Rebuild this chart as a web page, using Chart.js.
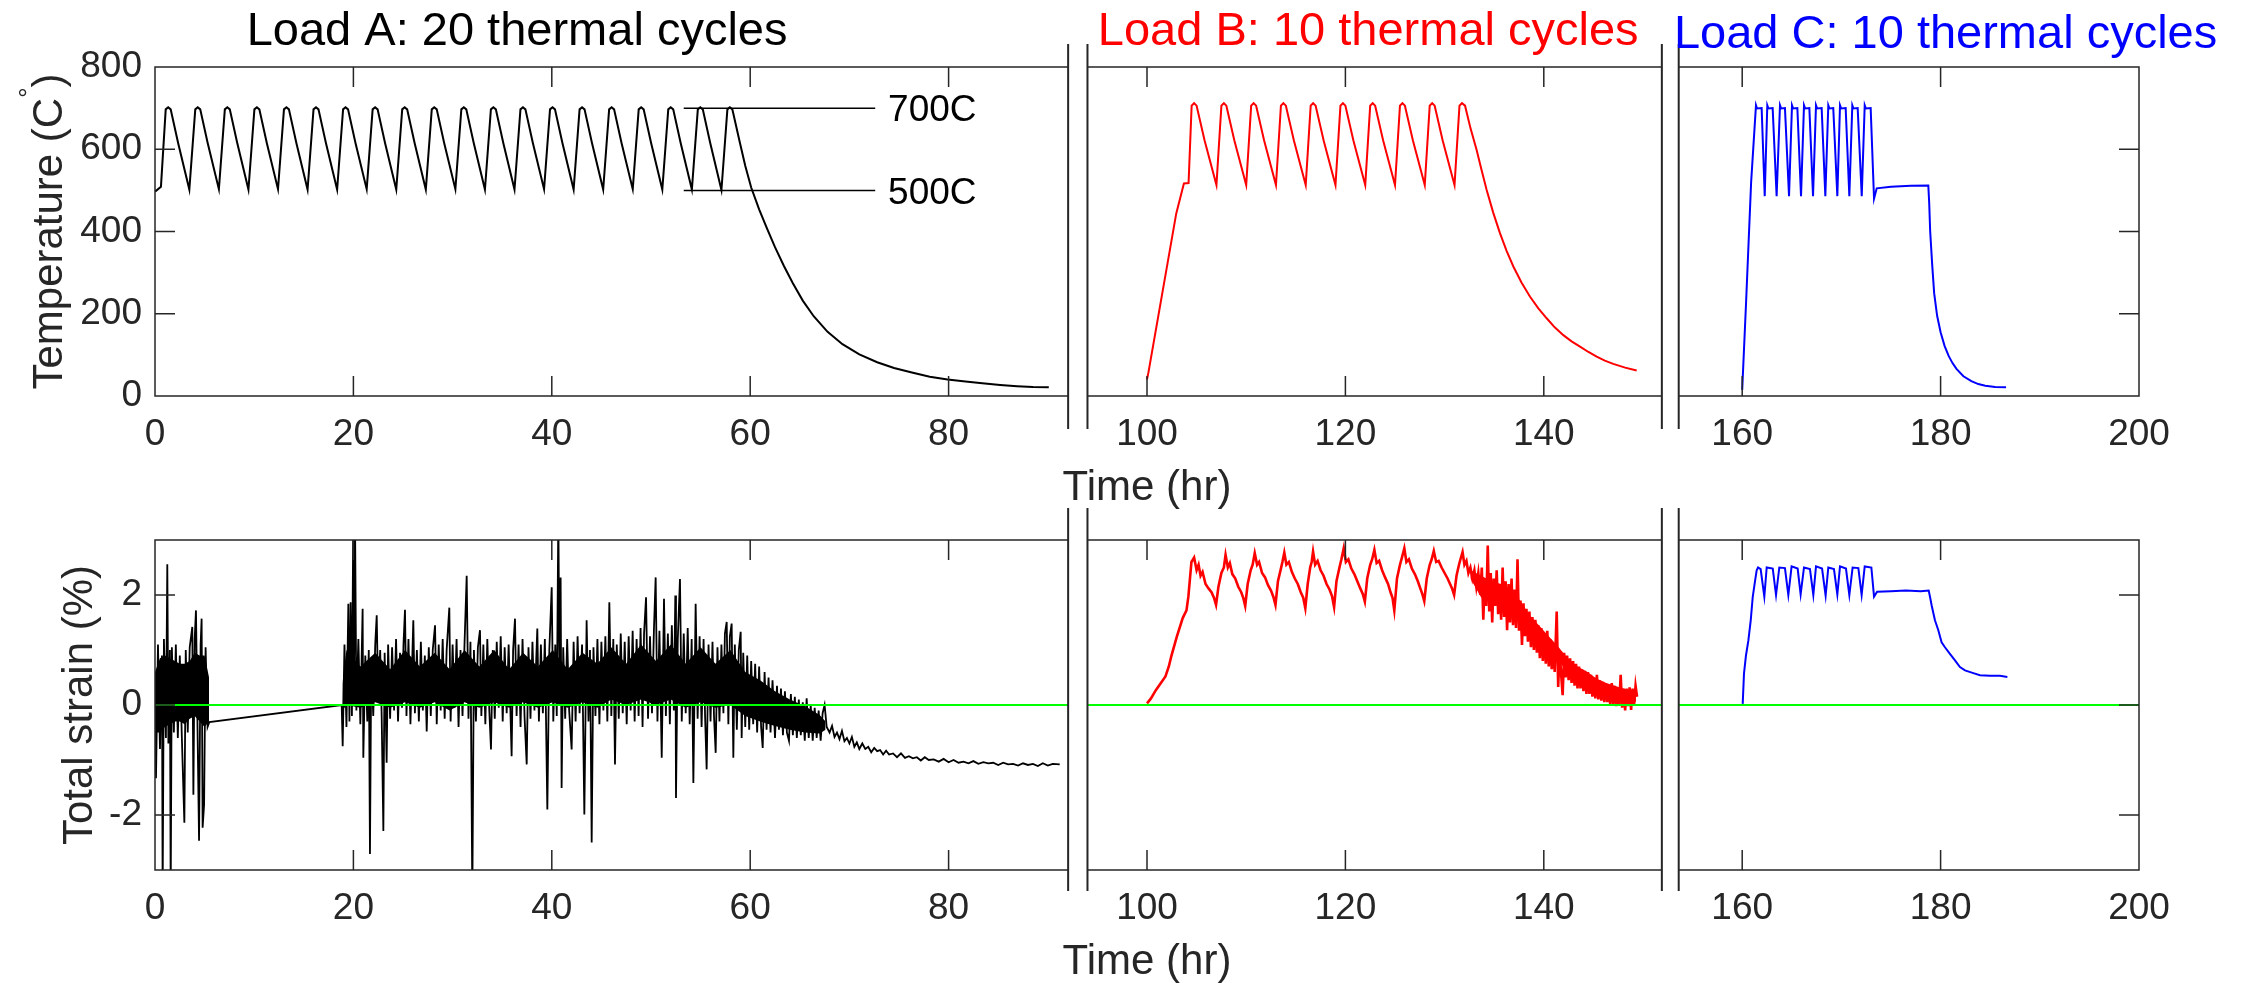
<!DOCTYPE html>
<html>
<head>
<meta charset="utf-8">
<script src="https://cdn.jsdelivr.net/npm/chart.js@4/dist/chart.umd.min.js"></script>
<style>
  html, body { margin: 0; padding: 0; background: #fff; }
  #wrap { position: relative; width: 2254px; height: 983px; overflow: hidden; }
  canvas { position: absolute; left: 0; }
  #top { top: 0; }
  #bottom { top: 490px; }
</style>
</head>
<body>
<div id="wrap">
  <canvas id="top" width="2254" height="520"></canvas>
  <canvas id="bottom" width="2254" height="493"></canvas>
</div>
<script>
// ---- data (time in hours) ----
const xTicks = [0, 20, 40, 60, 80, 100, 120, 140, 160, 180, 200];
const tempTicks = [0, 200, 400, 600, 800];
const strainTicks = [-2, 0, 2];

// Load A temperature (black)
const tempA_t = [0, 0.6,
  1.08, 1.33, 1.58, 2.33, 3.46,
  4.06, 4.31, 4.56, 5.31, 6.44,
  7.04, 7.29, 7.54, 8.29, 9.42,
  10.02, 10.27, 10.52, 11.27, 12.40,
  13.00, 13.25, 13.50, 14.25, 15.38,
  15.98, 16.23, 16.48, 17.23, 18.36,
  18.96, 19.21, 19.46, 20.21, 21.34,
  21.94, 22.19, 22.44, 23.19, 24.32,
  24.92, 25.17, 25.42, 26.17, 27.30,
  27.90, 28.15, 28.40, 29.15, 30.28,
  30.88, 31.13, 31.38, 32.13, 33.26,
  33.86, 34.11, 34.36, 35.11, 36.24,
  36.84, 37.09, 37.34, 38.09, 39.22,
  39.82, 40.07, 40.32, 41.07, 42.20,
  42.80, 43.05, 43.30, 44.05, 45.18,
  45.78, 46.03, 46.28, 47.03, 48.16,
  48.76, 49.01, 49.26, 50.01, 51.14,
  51.74, 51.99, 52.24, 52.99, 54.12,
  54.72, 54.97, 55.22, 55.97, 57.10,
  57.70, 57.95, 58.20, 58.95, 59.5,
  60.1, 60.9, 61.7, 62.5, 63.4, 64.3, 65.3, 66.4, 67.8, 69.3, 71.0,
  72.8, 74.5, 76.3, 78.1, 79.9, 81.7, 83.4, 85.2, 86.9, 88.5, 90.1];
const tempA_v = [497, 509,
  697, 702, 697, 615, 502,
  697, 702, 697, 615, 503,
  697, 702, 697, 615, 502,
  697, 702, 697, 615, 503,
  697, 702, 697, 615, 502,
  697, 702, 697, 615, 502,
  697, 702, 697, 615, 503,
  697, 702, 697, 615, 502,
  697, 702, 697, 615, 502,
  697, 702, 697, 615, 503,
  697, 702, 697, 615, 502,
  697, 702, 697, 615, 502,
  697, 702, 697, 615, 503,
  697, 702, 697, 615, 502,
  697, 702, 697, 615, 502,
  697, 702, 697, 615, 503,
  697, 702, 697, 615, 502,
  697, 702, 697, 615, 502,
  697, 702, 697, 615, 501,
  697, 702, 697, 617, 560,
  507, 454, 407, 362, 316, 274, 232, 194, 156, 126, 101,
  82, 68, 57, 47, 40, 35, 31, 27, 24, 22, 21];

// Load B temperature (red)
const tempB_t = [100.0, 100.15, 102.95, 103.72, 104.19,
  104.5, 104.75, 105.0, 105.8, 107.0,
  107.5, 107.75, 108.0, 108.8, 110.0,
  110.5, 110.75, 111.0, 111.8, 113.0,
  113.5, 113.75, 114.0, 114.8, 116.0,
  116.5, 116.75, 117.0, 117.8, 119.0,
  119.5, 119.75, 120.0, 120.8, 122.0,
  122.5, 122.75, 123.0, 123.8, 125.0,
  125.5, 125.75, 126.0, 126.8, 128.0,
  128.5, 128.75, 129.0, 129.8, 131.0,
  131.5, 131.75, 132.06,
  132.6, 133.23, 133.7, 134.24, 134.9, 135.58, 136.25, 136.93, 137.75, 138.6, 139.45,
  140.29, 141.1, 141.97, 142.8, 143.65, 144.5, 145.33, 146.15, 147.0, 148.2, 149.36];
const tempB_v = [40, 58, 444, 517, 518,
  706, 712, 706, 622, 513,
  706, 712, 706, 622, 513,
  706, 712, 706, 622, 513,
  706, 712, 706, 622, 513,
  706, 712, 706, 622, 513,
  706, 712, 706, 622, 513,
  706, 712, 706, 622, 513,
  706, 712, 706, 622, 513,
  706, 712, 706, 622, 513,
  706, 712, 706,
  652, 598, 552, 501, 446, 396, 353, 315, 276, 242, 213,
  189, 167, 148, 133, 120, 107, 96, 86, 78, 69, 62];

// Load C temperature (blue)
const tempC_t = [160.0, 160.4, 160.9,
  161.39, 161.5, 161.96, 162.27,
  162.53, 162.65, 163.07, 163.47,
  163.81, 163.93, 164.31, 164.72,
  165.02, 165.14, 165.56, 165.93,
  166.23, 166.35, 166.77, 167.14,
  167.44, 167.56, 168.01, 168.38,
  168.68, 168.8, 169.18, 169.59,
  169.86, 169.98, 170.43, 170.8,
  171.1, 171.22, 171.64, 172.05,
  172.35, 172.47, 172.95, 173.29,
  173.56, 175.0, 177.0, 178.76, 178.85, 178.95, 179.15, 179.35, 179.65, 180.0,
  180.4, 180.8, 181.2, 181.6, 182.3, 183.1, 183.8, 184.5, 185.5, 186.6];
const tempC_v = [15, 233, 520,
  707, 699, 700, 486,
  707, 699, 700, 486,
  707, 699, 700, 486,
  707, 699, 700, 486,
  707, 699, 700, 486,
  707, 699, 700, 486,
  707, 699, 700, 486,
  707, 699, 700, 486,
  707, 699, 700, 486,
  707, 699, 700, 480,
  505, 509, 511, 512, 470, 400, 320, 250, 195, 155,
  122, 98, 80, 66, 48, 36, 29, 25, 22, 21];

// 700C / 500C marker lines
const mark_t = [53.3, 72.6];
const mark700_v = [700, 700];
const mark500_v = [500, 500];

// Load A total strain (black)
const strainA_t = [
  0.0, 0.1, 0.3, 0.5, 0.7, 0.77, 0.9, 1.1, 1.24, 1.35,
  1.5, 1.58, 1.7, 1.9, 2.1, 2.3, 2.5, 2.7, 2.96, 3.1,
  3.3, 3.5, 3.76, 3.87, 4.0, 4.13, 4.3, 4.44, 4.6, 4.7,
  4.8, 4.95, 5.1, 5.3, 5.48,
  18.82, 18.92, 19.1, 19.3, 19.49, 19.6, 19.72, 19.85, 19.99, 20.05,
  20.16, 20.3, 20.5, 20.7, 20.93, 21.0, 21.2, 21.4, 21.55, 21.67,
  21.8, 22.0, 22.2, 22.35, 22.5, 22.7, 22.85, 23.02, 23.15, 23.35,
  23.5, 23.7, 23.9, 24.1, 24.3, 24.5, 24.7, 24.9, 25.05, 25.2,
  25.35, 25.55, 25.75, 26.04, 26.2, 26.4, 26.6, 26.8, 27.0, 27.2,
  27.39, 27.6, 27.8, 28.0, 28.23, 28.4, 28.6, 28.8, 29.0, 29.2,
  29.4, 29.67, 29.8, 30.0, 30.2, 30.4, 30.6, 30.8, 31.0, 31.2,
  31.42, 31.6, 31.8, 31.99, 32.15, 32.35, 32.55, 32.76, 32.9, 33.1,
  33.3, 33.5, 33.7, 33.87, 34.05, 34.25, 34.45, 34.65, 34.85, 35.05,
  35.25, 35.45, 35.65, 35.95, 36.1, 36.29, 36.45, 36.65, 36.85, 37.05,
  37.25, 37.47, 37.65, 37.85, 38.05, 38.25, 38.54, 38.7, 38.9, 39.1,
  39.3, 39.55, 39.75, 39.99, 40.15, 40.35, 40.5, 40.66, 40.78, 40.89,
  40.99, 41.15, 41.35, 41.55, 41.75, 42.0, 42.2, 42.4, 42.6, 42.8,
  43.05, 43.28, 43.51, 43.7, 43.85, 44.02, 44.2, 44.4, 44.6, 44.8,
  45.0, 45.2, 45.4, 45.6, 45.8, 46.0, 46.2, 46.37, 46.55, 46.75,
  46.95, 47.15, 47.35, 47.55, 47.75, 47.95, 48.15, 48.35, 48.55, 48.75,
  48.95, 49.15, 49.3, 49.5, 49.7, 49.9, 50.1, 50.3, 50.47, 50.65,
  50.85, 51.08, 51.31, 51.5, 51.7, 51.9, 52.1, 52.3, 52.45, 52.52,
  52.7, 52.92, 53.1, 53.3, 53.5, 53.7, 53.9, 54.1, 54.27, 54.5,
  54.7, 54.9, 55.1, 55.3, 55.45, 55.61, 55.8, 56.0, 56.2, 56.35,
  56.52, 56.7, 56.9, 57.1, 57.3, 57.45, 57.63, 57.8, 57.95, 58.13,
  58.3, 58.45, 58.65, 58.85, 59.04, 59.14, 59.3, 59.5, 59.7, 59.9,
  60.1, 60.3, 60.5, 60.7, 60.9, 61.1, 61.26, 61.45, 61.65, 61.85,
  62.05, 62.25, 62.5, 62.7, 62.9, 63.1, 63.3, 63.5, 63.7, 63.91,
  64.1, 64.3, 64.5, 64.7, 64.9, 65.1, 65.3, 65.5, 65.69, 65.9,
  66.1, 66.3, 66.5, 66.7, 66.9, 67.1, 67.3, 67.5, 67.71,
  68.0, 68.25, 68.5, 68.75, 69.0, 69.25, 69.5, 69.75, 70.0, 70.25,
  70.5, 70.75, 71.0, 71.3, 71.6, 71.9, 72.2, 72.5, 72.8, 73.1,
  73.4, 73.7, 74.0, 74.4, 74.8, 75.2, 75.6, 76.0, 76.4, 76.8,
  77.2, 77.6, 78.0, 78.5, 79.0, 79.5, 80.0, 80.5, 81.0, 81.5,
  82.0, 82.5, 83.0, 83.5, 84.0, 84.5, 85.0, 85.5, 86.0, 86.5,
  87.0, 87.5, 88.0, 88.5, 89.0, 89.5, 90.0, 90.5, 91.2];
const strainA_v = [
  0.5, -1.33, 1.1, -0.8, 0.9, -3.5, 1.2, -0.6, 2.56, -0.7,
  1.0, -3.5, 1.05, -0.5, 1.1, -0.6, 0.9, -0.55, -2.14, 1.0,
  -0.5, 1.05, 1.42, -1.63, 1.2, 1.72, -0.6, -2.47, 1.1, 1.57,
  -2.23, -1.81, 1.05, -0.4, -0.31,
  0.0, -0.75, 1.1, -0.4, 1.84, -0.3, 1.87, -0.2, 3.5, 0.2,
  3.5, -0.1, 1.2, -0.35, 1.75, -0.96, 0.9, -0.3, 1.0, -2.71,
  0.8, -0.2, 1.1, 1.63, 0.1, 1.0, -0.2, -2.29, 0.95, -1.05,
  1.1, -0.25, 1.05, -0.1, 1.2, -0.3, 0.95, -0.05, 1.1, 1.73,
  -0.2, 1.2, -0.35, 1.54, -0.15, 1.0, -0.3, 1.15, -0.1, 0.9,
  -0.48, 1.05, -0.2, 1.0, 1.45, -0.35, 1.1, -0.1, 1.2, -0.25,
  1.0, 1.77, -0.3, 1.1, -0.05, 1.2, -0.4, 1.0, -0.2, 1.1,
  2.35, -0.25, 1.15, -3.5, 1.0, -0.3, 1.05, 1.36, -0.2, 1.1,
  -0.35, 1.2, -0.1, -0.81, 1.0, -0.25, 1.15, -0.05, 1.25, -0.3,
  1.05, -0.15, 1.1, -0.93, 1.0, 1.57, -0.2, 1.1, -0.4, 1.2,
  -0.2, -1.08, 1.05, -0.25, 1.15, -0.1, 1.39, -0.3, 1.1, -0.15,
  1.2, -1.9, 1.0, 2.14, -0.3, 1.1, -0.2, 3.5, 0.1, 2.32,
  -1.51, 1.05, -0.25, 1.2, -0.1, -0.81, 1.15, -0.3, 1.25, -0.15,
  1.1, -1.99, 1.54, -0.3, 1.0, -2.5, 1.05, -0.2, 1.2, -0.35,
  1.15, -0.1, 1.25, -0.3, 1.87, -0.2, 1.2, -1.08, 1.1, -0.25,
  1.3, -0.15, 1.15, -0.35, 1.25, -0.1, 1.35, -0.3, 1.2, -0.2,
  1.4, -0.4, 1.3, 1.96, -0.25, 1.25, -0.15, 1.4, 2.32, -0.3,
  1.35, -0.96, 1.93, -0.2, 1.3, -0.35, 1.45, -0.1, 1.99, -1.69,
  1.2, 2.29, -0.3, 1.3, -0.15, 1.4, -0.35, 1.2, -1.42, 1.84,
  -0.25, 1.25, -0.4, 1.2, -0.2, -1.17, 1.1, -0.3, 1.15, -0.2,
  -0.87, 1.05, -0.3, 1.1, -0.15, 1.3, 1.51, -0.35, 1.25, 1.48,
  -0.96, 1.1, -0.45, 1.0, 1.33, -0.6, 0.95, -0.4, 0.9, -0.45,
  0.8, -0.35, 0.75, -0.5, 0.7, -0.4, -0.78, 0.6, -0.45, 0.5,
  -0.5, 0.45, -0.6, 0.35, -0.45, 0.3, -0.55, 0.25, -0.5, -0.65,
  0.2, -0.55, 0.15, -0.6, 0.1, -0.55, 0.05, -0.65, 0.12, -0.6,
  0.0, -0.65, -0.05, -0.6, -0.1, -0.65, -0.15, 0.0, -0.4,
  -0.5, -0.38, -0.58, -0.5, -0.62, -0.47, -0.66, -0.6, -0.7, -0.58,
  -0.76, -0.68, -0.8, -0.7, -0.8, -0.76, -0.86, -0.78, -0.84, -0.82,
  -0.9, -0.83, -0.9, -0.88, -0.95, -0.88, -0.96, -0.93, -0.97, -0.95,
  -1.01, -0.95, -1.0, -0.99, -1.03, -0.98, -1.04, -1.0, -1.05, -1.03,
  -1.06, -1.02, -1.07, -1.04, -1.06, -1.05, -1.09, -1.05, -1.08, -1.07,
  -1.1, -1.06, -1.09, -1.07, -1.11, -1.06, -1.1, -1.07, -1.08];

// solid core of the Load A strain band (upper / lower edge)
const coreA1_t = [0.0, 0.5, 1.0, 1.5, 2.0, 2.5, 3.0, 3.5, 4.0, 4.5, 5.0, 5.45];
const coreA1_hi = [0.6, 0.85, 0.9, 0.85, 0.8, 0.75, 0.75, 0.8, 0.95, 0.9, 0.9, 0.5];
const coreA1_lo = [-0.5, -0.5, -0.4, -0.35, -0.3, -0.3, -0.35, -0.25, -0.2, -0.3, -0.4, -0.3];
const coreA2_t = [18.9, 19.3, 20.7, 22.2, 23.7, 25.2, 26.7, 28.2, 29.7, 31.2,
  32.7, 34.2, 35.7, 37.1, 38.6, 40.1, 41.6, 43.1, 44.6, 46.0,
  47.5, 49.0, 50.5, 52.0, 53.5, 55.0, 56.5, 58.0, 59.5, 61.0,
  62.5, 64.0, 65.5, 67.0, 67.6];
const coreA2_hi = [0.4, 1.0, 0.7, 0.95, 0.65, 1.0, 0.7, 0.95, 0.65, 1.0,
  0.7, 1.0, 0.65, 0.95, 0.7, 1.0, 0.65, 0.95, 0.75, 1.05,
  0.75, 1.1, 0.8, 1.1, 0.75, 1.05, 0.75, 1.0, 0.6, 0.45,
  0.25, 0.1, -0.02, -0.18, -0.3];
const coreA2_lo = [-0.1, 0.0, -0.05, 0.05, -0.05, 0.05, -0.05, 0.05, -0.1, 0.05,
  -0.05, 0.05, -0.05, 0.05, -0.05, 0.05, -0.05, 0.05, -0.05, 0.1,
  0.0, 0.1, 0.0, 0.1, -0.05, 0.05, -0.05, 0.0, -0.2, -0.3,
  -0.38, -0.45, -0.5, -0.52, -0.45];

// Load B total strain (red)
const strainB_t = [
  100.0, 100.4, 100.89, 101.4, 101.86, 102.2, 102.44, 103.0, 103.6, 103.98,
  104.17, 104.48, 104.75, 105.0, 105.2, 105.4, 105.6, 105.9, 106.2, 106.5,
  106.75, 106.96, 107.2, 107.5, 107.75, 107.92, 108.15, 108.35, 108.6, 108.9,
  109.2, 109.5, 109.7, 109.9, 110.15, 110.45, 110.65, 110.86, 111.1, 111.3,
  111.6, 111.9, 112.2, 112.5, 112.75, 112.95, 113.2, 113.5, 113.65, 113.84,
  114.05, 114.3, 114.6, 114.9, 115.2, 115.5, 115.75, 115.96, 116.2, 116.45,
  116.6, 116.74, 116.95, 117.2, 117.5, 117.8, 118.1, 118.4, 118.65, 118.86,
  119.1, 119.4, 119.6, 119.83, 120.05, 120.3, 120.6, 120.9, 121.2, 121.5,
  121.75, 121.96, 122.2, 122.5, 122.7, 122.92, 123.15, 123.4, 123.7, 124.0,
  124.3, 124.55, 124.75, 124.93, 125.2, 125.5, 125.7, 125.94, 126.15, 126.4,
  126.7, 127.0, 127.3, 127.55, 127.75, 127.95, 128.2, 128.5, 128.7, 128.91,
  129.15, 129.4, 129.7, 130.0, 130.3, 130.55, 130.75, 130.96, 131.2, 131.45,
  131.6, 131.81, 132.0, 132.2, 132.4, 132.6, 132.8, 133.0, 133.2, 133.4,
  133.6, 133.75, 133.9, 134.05, 134.2, 134.35, 134.5, 134.65, 134.8, 134.95,
  135.1, 135.25, 135.4, 135.55, 135.7, 135.85, 136.0, 136.15, 136.3, 136.45,
  136.6, 136.75, 136.9, 137.05, 137.2, 137.35, 137.5, 137.65, 137.8, 137.95,
  138.1, 138.25, 138.4, 138.55, 138.7, 138.85, 139.0, 139.15, 139.3, 139.45,
  139.6, 139.75, 139.9, 140.05, 140.2, 140.35, 140.5, 140.65, 140.8, 140.95,
  141.1, 141.3, 141.45, 141.6, 141.75, 141.9, 142.05, 142.2, 142.35, 142.5,
  142.65, 142.8, 142.95, 143.1, 143.25, 143.4, 143.55, 143.7, 143.85, 144.0,
  144.15, 144.3, 144.45, 144.6, 144.75, 144.9, 145.05, 145.2, 145.35, 145.5,
  145.65, 145.8, 145.95, 146.1, 146.25, 146.4, 146.55, 146.7, 146.85, 147.0,
  147.15, 147.3, 147.45, 147.6, 147.75, 147.9, 148.05, 148.2, 148.35, 148.5,
  148.65, 148.8, 148.95, 149.1, 149.25, 149.4];
const strainB_v = [
  0.03, 0.12, 0.27, 0.4, 0.52, 0.7, 0.88, 1.24, 1.58, 1.72,
  1.97, 2.6, 2.68, 2.45, 2.55, 2.35, 2.42, 2.2, 2.12, 2.05,
  1.95, 1.82, 2.15, 2.4, 2.5, 2.73, 2.5, 2.58, 2.38, 2.3,
  2.15, 2.05, 1.95, 1.8, 2.2, 2.45, 2.55, 2.76, 2.55, 2.6,
  2.4, 2.32, 2.18, 2.08, 1.96, 1.82, 2.25, 2.48, 2.6, 2.77,
  2.55, 2.6, 2.42, 2.3, 2.2, 2.05, 1.95, 1.76, 2.2, 2.5,
  2.6, 2.79, 2.55, 2.62, 2.45, 2.35, 2.2, 2.1, 1.98, 1.78,
  2.25, 2.5, 2.65, 2.85, 2.6, 2.65, 2.48, 2.38, 2.25, 2.12,
  2.02, 1.88, 2.3, 2.55, 2.65, 2.82, 2.58, 2.62, 2.45, 2.32,
  2.2, 2.05, 1.95, 1.72, 2.3, 2.55, 2.68, 2.85, 2.6, 2.65,
  2.48, 2.38, 2.25, 2.12, 2.02, 1.89, 2.3, 2.55, 2.65, 2.8,
  2.6, 2.62, 2.5, 2.4, 2.3, 2.2, 2.12, 2.0, 2.35, 2.55,
  2.65, 2.78, 2.55, 2.62, 2.4, 2.5, 2.3, 2.45, 2.15, 2.4,
  2.0, 2.5, 1.55, 2.3, 1.8, 2.9, 1.7, 2.4, 1.5, 2.3,
  1.8, 2.45, 1.65, 2.2, 1.55, 2.5, 1.6, 2.25, 1.36, 2.2,
  1.5, 2.3, 1.45, 2.1, 1.4, 2.65, 1.35, 1.9, 1.09, 1.85,
  1.25, 1.75, 1.15, 1.7, 1.05, 1.6, 1.0, 1.55, 0.95, 1.45,
  0.85, 1.4, 0.8, 1.3, 0.75, 1.35, 0.7, 1.2, 0.65, 1.1,
  0.6, 1.7, 0.33, 1.0, 0.55, 0.18, 0.95, 0.5, 0.9, 0.45,
  0.85, 0.4, 0.8, 0.35, 0.75, 0.3, 0.7, 0.3, 0.65, 0.25,
  0.62, 0.2, 0.6, 0.2, 0.55, 0.15, 0.5, 0.12, 0.55, 0.1,
  0.45, 0.08, 0.42, 0.05, 0.4, 0.05, 0.35, 0.0, 0.4, 0.02,
  0.35, -0.02, 0.3, 0.0, 0.55, -0.05, 0.3, -0.1, 0.3, -0.02,
  0.32, -0.09, 0.3, 0.0, 0.35, 0.15];

// solid core of the noisy Load B cool-down
const coreB_t = [132.6, 133.7, 134.7, 135.7, 136.7, 137.6, 138.5, 139.5, 140.5, 141.5, 142.4, 143.4,
  144.4, 145.3, 146.3, 147.3, 148.3, 149.3];
const coreB_hi = [2.45, 2.35, 2.25, 2.2, 2.1, 1.9, 1.65, 1.45, 1.25, 1.05, 0.85, 0.7,
  0.6, 0.48, 0.4, 0.34, 0.28, 0.26];
const coreB_lo = [2.3, 1.95, 1.9, 1.8, 1.7, 1.5, 1.3, 1.1, 0.95, 0.78, 0.62, 0.48,
  0.36, 0.26, 0.2, 0.15, 0.1, 0.06];

// Load C total strain (blue)
const strainC_t = [
  160.05, 160.18, 160.38, 160.62, 160.86, 161.06, 161.3, 161.46, 161.6, 161.86,
  162.23, 162.47, 163.08, 163.41, 163.74, 164.31, 164.65, 164.98, 165.59, 165.89,
  166.23, 166.83, 167.17, 167.44, 168.05, 168.41, 168.68, 169.25, 169.59, 169.86,
  170.46, 170.8, 171.13, 171.71, 172.04, 172.35, 173.02, 173.29, 173.6, 175.0,
  176.5, 178.0, 178.8, 178.94, 179.1, 179.43, 179.77, 180.1, 180.44, 180.94,
  181.45, 181.95, 182.46, 183.3, 183.97, 184.98, 185.99, 186.73];
const strainC_v = [
  0.02, 0.57, 0.9, 1.17, 1.54, 1.96, 2.26, 2.45, 2.5, 2.47,
  1.97, 2.5, 2.48, 2.0, 2.5, 2.49, 2.0, 2.52, 2.48, 2.01,
  2.5, 2.47, 2.0, 2.52, 2.48, 1.99, 2.5, 2.47, 2.01, 2.52,
  2.48, 2.0, 2.5, 2.49, 2.0, 2.52, 2.5, 1.97, 2.06, 2.07,
  2.08, 2.07, 2.08, 1.96, 1.81, 1.54, 1.36, 1.14, 1.05, 0.93,
  0.81, 0.69, 0.63, 0.58, 0.54, 0.53, 0.53, 0.51];

const zero_t = [0, 200];
const zero_v = [0, 0];

// axis breaks, in hours
const breaks = [[92.05, 94.0], [151.9, 153.6]];

const FONT = "'Liberation Sans', Arial, Helvetica, sans-serif";
const INK = '#262626';

function pairs(t, v) {
  return t.map((x, i) => ({ x: x, y: v[i] }));
}

function line(t, v, color, width, order) {
  return {
    data: pairs(t, v),
    borderColor: color,
    borderWidth: width,
    pointRadius: 0,
    tension: 0,
    fill: false,
    order: order
  };
}

// two datasets: an invisible upper edge and a lower edge filled up to it
function band(t, hi, lo, color) {
  return [
    { data: pairs(t, hi), borderWidth: 0, borderColor: color, pointRadius: 0, fill: false, order: 2 },
    { data: pairs(t, lo), borderWidth: 0, borderColor: color, backgroundColor: color, pointRadius: 0, fill: '-1', order: 2 }
  ];
}

// box, inward ticks and the break marks
const framePlugin = {
  id: 'frame',
  afterDatasetsDraw(chart, args, o) {
    const { ctx, chartArea: a } = chart;
    const x = chart.scales.x, y = chart.scales.y;
    ctx.save();
    ctx.strokeStyle = INK;
    ctx.lineWidth = 1.5;
    ctx.beginPath();
    ctx.rect(a.left, a.top, a.right - a.left, a.bottom - a.top);
    xTicks.forEach(v => {
      const px = x.getPixelForValue(v);
      ctx.moveTo(px, a.top); ctx.lineTo(px, a.top + 20);
      ctx.moveTo(px, a.bottom); ctx.lineTo(px, a.bottom - 20);
    });
    o.yTicks.forEach(v => {
      const py = y.getPixelForValue(v);
      ctx.moveTo(a.left, py); ctx.lineTo(a.left + 20, py);
      ctx.moveTo(a.right, py); ctx.lineTo(a.right - 20, py);
    });
    ctx.stroke();

    breaks.forEach(b => {
      const p0 = x.getPixelForValue(b[0]);
      const p1 = x.getPixelForValue(b[1]);
      ctx.fillStyle = '#fff';
      ctx.fillRect(p0, a.top - 3, p1 - p0, a.bottom - a.top + 6);
      ctx.lineWidth = 2;
      ctx.beginPath();
      ctx.moveTo(p0, a.top - o.above); ctx.lineTo(p0, a.bottom + o.below);
      ctx.moveTo(p1, a.top - o.above); ctx.lineTo(p1, a.bottom + o.below);
      ctx.stroke();
    });
    ctx.restore();
  }
};

// titles, axis labels, 700C/500C notes
const textPlugin = {
  id: 'texts',
  afterDraw(chart, args, o) {
    const { ctx, chartArea: a } = chart;
    const x = chart.scales.x, y = chart.scales.y;
    ctx.save();
    ctx.textBaseline = 'alphabetic';
    ctx.textAlign = 'center';
    (o.titles || []).forEach(t => {
      ctx.font = '47px ' + FONT;
      ctx.fillStyle = t.color;
      ctx.fillText(t.text, x.getPixelForValue(t.at), t.base);
    });

    ctx.textAlign = 'left';
    ctx.textBaseline = 'middle';
    (o.notes || []).forEach(n => {
      ctx.font = '37px ' + FONT;
      ctx.fillStyle = '#000';
      ctx.fillText(n.text, x.getPixelForValue(n.at), y.getPixelForValue(n.val) + 3);
    });

    ctx.textBaseline = 'alphabetic';
    ctx.textAlign = 'center';
    ctx.fillStyle = INK;
    ctx.font = '42px ' + FONT;
    ctx.fillText('Time (hr)', (a.left + a.right) / 2, a.bottom + 104);

    // rotated y label, pieces can be raised (superscript)
    ctx.translate(o.yBase, (a.top + a.bottom) / 2);
    ctx.rotate(-Math.PI / 2);
    ctx.textAlign = 'left';
    let total = 0;
    o.yTitle.forEach(p => { ctx.font = p.size + 'px ' + FONT; total += ctx.measureText(p.text).width; });
    let cx = -total / 2;
    o.yTitle.forEach(p => {
      ctx.font = p.size + 'px ' + FONT;
      ctx.fillText(p.text, cx, -(p.rise || 0));
      cx += ctx.measureText(p.text).width;
    });
    ctx.restore();
  }
};

function axes(yMin, yMax, yTickVals, xAxisHeight) {
  return {
    x: {
      type: 'linear', min: 0, max: 200,
      afterBuildTicks: s => { s.ticks = xTicks.map(v => ({ value: v })); },
      afterFit: s => { s.height = xAxisHeight; },
      grid: { display: false, drawTicks: false },
      border: { display: false },
      ticks: { color: INK, font: { family: FONT, size: 37 }, padding: 17, maxRotation: 0 }
    },
    y: {
      type: 'linear', min: yMin, max: yMax,
      afterBuildTicks: s => { s.ticks = yTickVals.map(v => ({ value: v })); },
      afterFit: s => { s.width = 155; },
      grid: { display: false, drawTicks: false },
      border: { display: false },
      ticks: { color: INK, font: { family: FONT, size: 37 }, padding: 13 }
    }
  };
}

new Chart(document.getElementById('top'), {
  type: 'line',
  data: {
    datasets: [
      line(mark_t, mark700_v, '#000', 1.5, 0),
      line(mark_t, mark500_v, '#000', 1.5, 0),
      line(tempA_t, tempA_v, '#000', 2, 1),
      line(tempB_t, tempB_v, '#ff0000', 2, 1),
      line(tempC_t, tempC_v, '#0000ff', 2, 1)
    ]
  },
  options: {
    responsive: false,
    devicePixelRatio: 1,
    animation: false,
    events: [],
    layout: { padding: { left: 0, right: 115, top: 67, bottom: 0 } },
    scales: axes(0, 800, tempTicks, 124),
    plugins: {
      legend: { display: false },
      tooltip: { enabled: false },
      frame: { yTicks: tempTicks, above: 23, below: 33 },
      texts: {
        titles: [
          { text: 'Load A: 20 thermal cycles', at: 36.5, base: 45, color: '#000' },
          { text: 'Load B: 10 thermal cycles', at: 122.3, base: 45, color: '#ff0000' },
          { text: 'Load C: 10 thermal cycles', at: 180.5, base: 48, color: '#0000ff' }
        ],
        notes: [
          { text: '700C', at: 73.9, val: 700 },
          { text: '500C', at: 73.9, val: 500 }
        ],
        yBase: 62,
        yTitle: [
          { text: 'Temperature (C', size: 42 },
          { text: '\u00B0', size: 26, rise: 25 },
          { text: ')', size: 42 }
        ]
      }
    }
  },
  plugins: [framePlugin, textPlugin]
});

new Chart(document.getElementById('bottom'), {
  type: 'line',
  data: {
    datasets: [
      line(zero_t, zero_v, '#00ff00', 2.2, 0),
      line(strainA_t, strainA_v, '#000', 1.8, 1),
      line(strainB_t, strainB_v, '#ff0000', 2.6, 1),
      line(strainC_t, strainC_v, '#0000ff', 2, 1),
      ...band(coreA1_t, coreA1_hi, coreA1_lo, '#000'),
      ...band(coreA2_t, coreA2_hi, coreA2_lo, '#000'),
      ...band(coreB_t, coreB_hi, coreB_lo, '#ff0000')
    ]
  },
  options: {
    responsive: false,
    devicePixelRatio: 1,
    animation: false,
    events: [],
    layout: { padding: { left: 0, right: 115, top: 50, bottom: 0 } },
    scales: axes(-3, 3, strainTicks, 113),
    plugins: {
      legend: { display: false },
      tooltip: { enabled: false },
      frame: { yTicks: strainTicks, above: 32, below: 21 },
      texts: {
        yBase: 92,
        yTitle: [{ text: 'Total strain (%)', size: 42 }]
      }
    }
  },
  plugins: [framePlugin, textPlugin]
});
</script>
</body>
</html>
